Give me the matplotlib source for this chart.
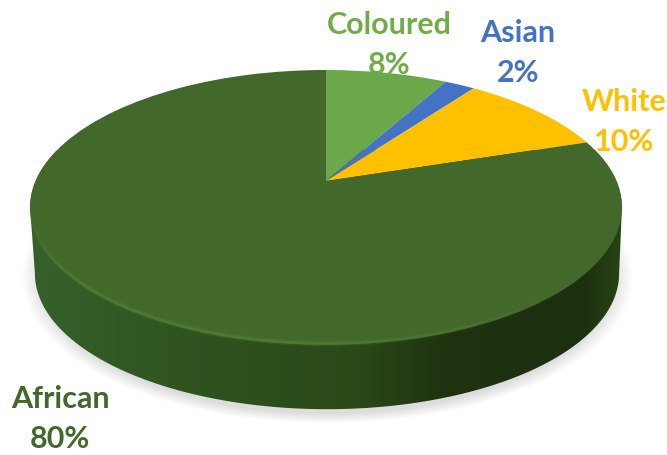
import matplotlib
matplotlib.use("Agg")
import matplotlib.pyplot as plt
import numpy as np
from matplotlib.collections import LineCollection
from matplotlib.colors import LinearSegmentedColormap, to_rgb
from matplotlib.patches import PathPatch
from matplotlib.path import Path
from matplotlib.transforms import Transform

groups = ["Coloured", "Asian", "White", "African"]
shares = [8, 2, 10, 80]
slice_colors = ["#6aa84a", "#4472c4", "#ffc000", "#43682b"]
label_colors = ["#70ad47", "#4472c4", "#ffc000", "#43682b"]
label_xy = [(389, 45), (518, 53), (624, 122), (60, 419)]

W, H = 667, 455
APEX = np.array([326.0, 181.0])
TILT = 0.1926          # foreshortening of the disc
RX, RY = 290.4, 132.4
DEPTH = 66.0
BASE_SCALE = 0.987
MID_Y = 207.0          # widest row of the projected rim


def project(xy):
    """Unit disc -> pixel coords, far edge pushed back by TILT."""
    xy = np.asarray(xy, dtype=float)
    w = 1 + TILT * xy[..., 1]
    return np.stack([APEX[0] + RX * xy[..., 0] / w, APEX[1] - RY * xy[..., 1] / w], axis=-1)


class DiscProjection(Transform):
    input_dims = output_dims = 2
    is_separable = False
    has_inverse = False

    def transform_non_affine(self, values):
        return project(values)


fig = plt.figure(figsize=(W / 100, H / 100), dpi=100)
ax = fig.add_axes([0, 0, 1, 1])

# rim sampled from its right extreme, counterclockwise on the disc
t = np.linspace(0, 2 * np.pi, 1441)
rim = project(np.column_stack([np.cos(t), np.sin(t)]))
rim = np.roll(rim[:-1], -np.argmax(rim[:-1, 0]), axis=0)
i_left = np.argmin(rim[:, 0])
base = np.column_stack([APEX[0] + (rim[:, 0] - APEX[0]) * BASE_SCALE + 1,
                        MID_Y + (rim[:, 1] - MID_Y) * BASE_SCALE + DEPTH])

# soft drop shadow under the base
yy, xx = np.mgrid[0:H, 0:W]
d = np.hypot((xx - 327) / 306, (yy - (MID_Y + DEPTH + 4)) / 146)
shadow = np.zeros((H, W, 4))
shadow[..., :3] = 0.55
shadow[..., 3] = 0.3 * np.clip((1.0 - d) / 0.07, 0, 1)
ax.imshow(shadow, extent=(0, W, H, 0), zorder=1, interpolation="bilinear")

# side wall: base's lower half joined to the rim's upper half
wall = Path(np.vstack([rim[:i_left + 1], base[i_left:], rim[:1]]), closed=True)
wall_clip = PathPatch(wall, fc="none", ec="none", transform=ax.transData)
ax.add_patch(wall_clip)
wall_cmap = LinearSegmentedColormap.from_list(
    "wall", [(0, "#36602a"), (0.25, "#2f5420"), (0.55, "#2a4918"), (0.7, "#1f3310"),
             (0.93, "#1c2f0f"), (1, "#274516")])
grad = np.linspace(0, 1, 256)[None, :]
im = ax.imshow(grad, extent=(30, 624, 420, 150), cmap=wall_cmap, aspect="auto", zorder=2)
im.set_clip_path(wall_clip)

# top face
wedges, _ = ax.pie(shares, colors=slice_colors, startangle=90, counterclock=False, radius=1)
for w in wedges:
    w.set_transform(DiscProjection() + ax.transData)
    w.set_zorder(4)
    w.set_linewidth(0)

# faint bevel highlight along the front of the rim
front = rim[i_left:] + np.array([0, -1.5])
segs = np.stack([front[:-1], front[1:]], axis=1)
s = np.linspace(0, 1, len(segs))
glow = np.clip(s / 0.2, 0, 1) * np.clip((0.8 - s) / 0.3, 0, 1)
for lw, a in [(4, 0.2), (1.8, 0.55)]:
    rgba = np.zeros((len(segs), 4))
    rgba[:, :3] = to_rgb("#558738")
    rgba[:, 3] = a * glow
    ax.add_collection(LineCollection(segs, colors=rgba, linewidths=lw, zorder=5))

# labels sit under the top face, the 8% is partly hidden by it
for name, pct, col, (x, y) in zip(groups, shares, label_colors, label_xy):
    ax.text(x, y, f"{name}\n{pct}%", color=col, ha="center", va="center", fontsize=22,
            fontweight="bold", family=["Lato", "DejaVu Sans"], linespacing=1.56, zorder=3)

ax.set_xlim(0, W)
ax.set_ylim(H, 0)
ax.set_aspect("auto")
ax.axis("off")
fig.savefig("out.png", dpi=100)
